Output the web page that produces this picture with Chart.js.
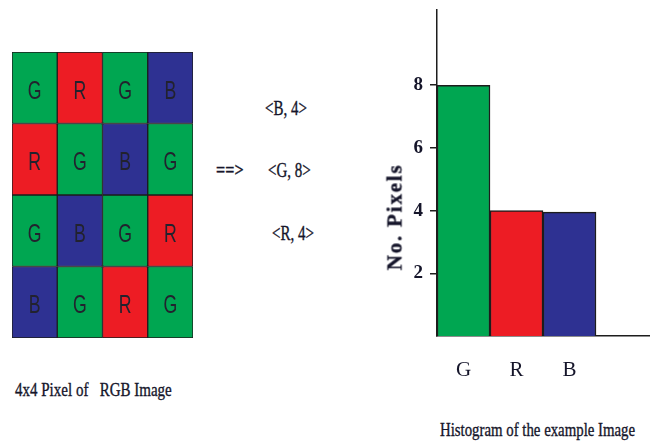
<!DOCTYPE html>
<html>
<head>
<meta charset="utf-8">
<script src="https://cdn.jsdelivr.net/npm/chart.js"></script>
<style>
	body {margin: 0; background: #fff; width: 656px; height: 445px; position: relative; overflow: hidden;}
	canvas {position: absolute;}
	.txt {position: absolute; font-family: "Liberation Serif", "DejaVu Serif", serif; color: #15152a; white-space: pre; transform-origin: 0 50%; line-height: 1; -webkit-text-stroke: 0.35px #15152a;}
</style>
</head>
<body>
<canvas id="grid" width="181" height="286" style="left:12px; top:52px;"></canvas>
<canvas id="hist" width="286" height="395" style="left:370px; top:0px;"></canvas>

<div class="txt" style="left:265px; top:98px; font-size:20px; transform:scaleX(0.75);">&lt;B, 4&gt;</div>
<div class="txt" style="left:216px; top:160px; font-size:19px; font-weight:bold; transform:scaleX(0.85);">==&gt;</div>
<div class="txt" style="left:268px; top:160px; font-size:20px; transform:scaleX(0.75);">&lt;G, 8&gt;</div>
<div class="txt" style="left:272px; top:223px; font-size:20px; transform:scaleX(0.75);">&lt;R, 4&gt;</div>
<div class="txt" style="left:15px; top:380px; font-size:19px; transform:scaleX(0.79);">4x4 Pixel of   RGB Image</div>
<div class="txt" style="left:440px; top:420px; font-size:19px; transform:scaleX(0.78);">Histogram of the example Image</div>
<div class="txt" style="left:395px; top:217px; font-size:21px; font-weight:bold; letter-spacing:1.8px; transform-origin: 0 0; transform:rotate(-90deg) translate(-50%, -50%);">No. Pixels</div>

<script>
'use strict'
// 4x4 image, row by row from the top
const gridRows = [
	["G", "R", "G", "B"],
	["R", "G", "B", "G"],
	["G", "B", "G", "R"],
	["B", "G", "R", "G"]
];
const colorOf = {G: "#00a651", R: "#ed1c24", B: "#2e3192"};

// histogram
const histLabels = ["G", "R", "B", ""];
const histValues = [8, 4, 3.95, null];
const histColors = ["#00a651", "#ed1c24", "#2e3192", "#fff"];
const yTicks = [2, 4, 6, 8];

Chart.defaults.animation = false;
Chart.defaults.devicePixelRatio = 1;

// letters in the middle of every cell
const cellLetters = {
	id: "cellLetters",
	afterDatasetsDraw(chart) {
		let ctx = chart.ctx;
		ctx.save();
		ctx.fillStyle = "#22222e";
		ctx.textAlign = "center";
		ctx.textBaseline = "middle";
		chart.data.datasets.forEach((ds, r) => {
			chart.getDatasetMeta(r).data.forEach((bar, c) => {
				ctx.save();
				ctx.translate(bar.x, (bar.y + bar.base) / 2 + 4);
				ctx.scale(0.68, 1);
				ctx.font = "26px 'Liberation Sans', sans-serif";
				ctx.fillText(gridRows[r][c], 0, 0);
				ctx.restore();
			});
		});
		ctx.restore();
	}
};

new Chart(document.getElementById("grid"), {
	type: "bar",
	data: {
		labels: [0, 1, 2, 3],
		datasets: gridRows.map(row => ({
			data: row.map(() => 1),
			backgroundColor: row.map(l => colorOf[l]),
			borderColor: "#1d1d1d",
			borderWidth: 1,
			borderSkipped: false,
			barPercentage: 1,
			categoryPercentage: 1
		}))
	},
	options: {
		responsive: false,
		layout: {padding: 0},
		plugins: {legend: {display: false}, tooltip: {enabled: false}},
		scales: {
			x: {display: false, stacked: true},
			y: {display: false, stacked: true, reverse: true, min: 0, max: 4}
		}
	},
	plugins: [cellLetters]
});

new Chart(document.getElementById("hist"), {
	type: "bar",
	data: {
		labels: histLabels,
		datasets: [{
			data: histValues,
			backgroundColor: histColors,
			borderColor: "#1d1d1d",
			borderWidth: 1.5,
			barPercentage: 1,
			categoryPercentage: 1
		}]
	},
	options: {
		responsive: false,
		layout: {padding: {top: 10, right: 7, left: 0, bottom: 0}},
		plugins: {legend: {display: false}, tooltip: {enabled: false}},
		scales: {
			x: {
				afterFit: s => { s.height = 59; s.paddingLeft = 0; s.paddingRight = 0; },
				grid: {display: false},
				border: {color: "#1d1d1d", width: 1.5},
				ticks: {color: "#15152a", padding: 14, font: {family: "Liberation Serif", size: 21}}
			},
			y: {
				min: 0, max: 10.4,
				afterFit: s => { s.width = 67; s.paddingTop = 0; s.paddingBottom = 0; },
				afterBuildTicks: s => { s.ticks = yTicks.map(v => ({value: v})); },
				grid: {drawOnChartArea: false, drawTicks: true, tickLength: 7, color: "#1d1d1d", lineWidth: 1.5},
				border: {color: "#1d1d1d", width: 1.5},
				ticks: {color: "#15152a", padding: 7, font: {family: "Liberation Serif", size: 19, weight: "bold"}}
			}
		}
	}
});
</script>
</body>
</html>
